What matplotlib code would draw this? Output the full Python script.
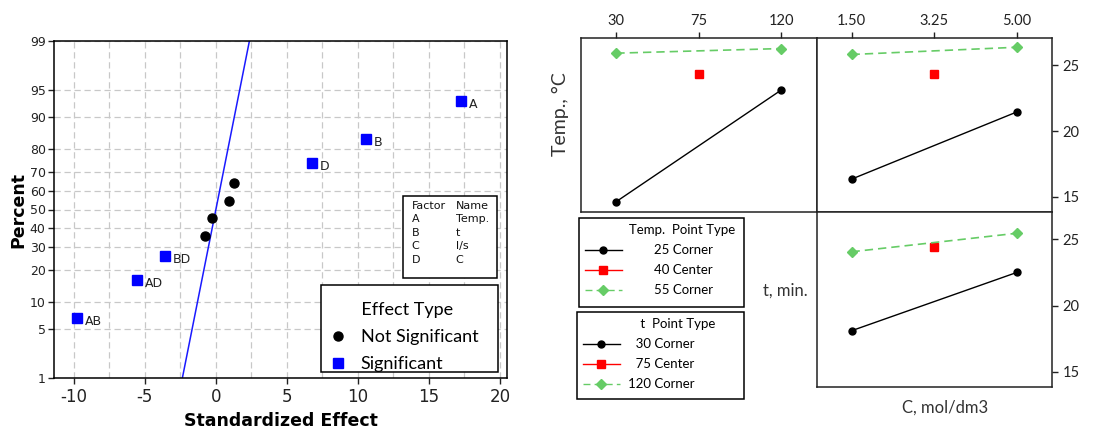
import numpy as np
import matplotlib
matplotlib.use("Agg")
import matplotlib.pyplot as plt
from matplotlib.lines import Line2D
from matplotlib.patches import Rectangle
from matplotlib.ticker import MultipleLocator, FixedLocator
from statistics import NormalDist

plt.rcParams["axes.unicode_minus"] = False

# normal plot of the standardized effects
ns_effect = [-0.8, -0.25, 0.9, 1.25]
ns_percent = [35.6, 45.2, 54.8, 64.5]
sig_terms = ["AB", "AD", "BD", "D", "B", "A"]
sig_effect = [-9.75, -5.55, -3.6, 6.8, 10.55, 17.25]
sig_percent = [6.7, 16.4, 26.0, 74.0, 83.6, 93.3]
fit_effect = [-2.36, 2.36]
fit_percent = [1, 99]
pct_ticks = [1, 5, 10, 20, 30, 40, 50, 60, 70, 80, 90, 95, 99]
factors = ["A", "B", "C", "D"]
factor_names = ["Temp.", "t", "l/s", "C"]

# interaction plot (mean response)
t_levels = [30, 75, 120]
c_levels = [1.50, 3.25, 5.00]
temp_levels = [25, 40, 55]
point_types = ["Corner", "Center", "Corner"]
# Temp. lines vs t
temp25_vs_t = [14.65, 23.1]
temp40_vs_t = [24.35]
temp55_vs_t = [25.9, 26.25]
# Temp. lines vs C
temp25_vs_c = [16.35, 21.45]
temp40_vs_c = [24.35]
temp55_vs_c = [25.8, 26.35]
# t lines vs C
t30_vs_c = [18.1, 22.5]
t75_vs_c = [24.4]
t120_vs_c = [24.05, 25.45]

_nd = NormalDist()


def pct_fwd(p):
    p = np.clip(np.asarray(p, dtype=float) / 100.0, 1e-9, 1 - 1e-9)
    return np.vectorize(_nd.inv_cdf, otypes=[float])(p)


def pct_inv(z):
    return np.vectorize(_nd.cdf, otypes=[float])(np.asarray(z, dtype=float)) * 100.0


W, H = 1120, 430
fig = plt.figure(figsize=(W / 100, H / 100), dpi=100)


def fbox(x0, y0, x1, y1):
    # pixel box (top-left origin) -> figure fraction rect
    return [x0 / W, 1 - y1 / H, (x1 - x0) / W, (y1 - y0) / H]


def frame(x0, y0, x1, y1):
    r = Rectangle((x0 / W, 1 - y1 / H), (x1 - x0) / W, (y1 - y0) / H, transform=fig.transFigure,
                  facecolor="white", edgecolor="black", linewidth=1.1, zorder=4)
    fig.add_artist(r)


# ---------------- left: normal plot ----------------
ax = fig.add_axes(fbox(54, 41, 507, 378))
ax.set_yscale("function", functions=(pct_fwd, pct_inv))
ax.set_ylim(1, 99)
ax.set_xlim(-11.4, 20.5)
ax.yaxis.set_major_locator(FixedLocator(pct_ticks))
ax.set_yticklabels([str(v) for v in pct_ticks])
ax.yaxis.set_minor_locator(FixedLocator([]))
ax.xaxis.set_major_locator(MultipleLocator(5))
ax.xaxis.set_minor_locator(MultipleLocator(2.5))
ax.grid(True, which="both", axis="x", color="#c8c8c8", linestyle=(0, (5, 3)), linewidth=0.9)
ax.grid(True, which="major", axis="y", color="#c8c8c8", linestyle=(0, (5, 3)), linewidth=0.9)
ax.tick_params(axis="x", which="minor", length=0)
ax.tick_params(axis="x", which="major", labelsize=12, length=4, width=1, colors="#222222")
ax.tick_params(axis="y", labelsize=9, length=4, width=1, colors="#222222", pad=2)
for s in ax.spines.values():
    s.set_color("black")
    s.set_linewidth(1.1)
ax.set_axisbelow(True)

ax.plot(fit_effect, fit_percent, color="#1a1aff", linewidth=1.1, zorder=2)
ax.plot(ns_effect, ns_percent, "o", color="black", markersize=6.5, linestyle="none", zorder=3)
ax.plot(sig_effect, sig_percent, "s", color="#0000ff", markersize=6.5, linestyle="none", zorder=3)
for term, x, y in zip(sig_terms, sig_effect, sig_percent):
    ax.annotate(term, (x, y), xytext=(5.5, -2.5), textcoords="offset points",
                ha="left", va="center", fontsize=9, color="#222222")

ax.set_xlabel("Standardized Effect", fontsize=12.5, fontweight="bold", labelpad=4)
ax.set_ylabel("Percent", fontsize=12.5, fontweight="bold", labelpad=2)

# factor / name table
ax.add_patch(Rectangle((0.770, 0.297), 0.208, 0.243, transform=ax.transAxes,
                       facecolor="white", edgecolor="black", linewidth=1.1, zorder=4))
ax.text(0.790, 0.525, "\n".join(["Factor"] + factors), transform=ax.transAxes,
        ha="left", va="top", fontsize=8, linespacing=1.42, zorder=5, color="#111111")
ax.text(0.887, 0.525, "\n".join(["Name"] + factor_names), transform=ax.transAxes,
        ha="left", va="top", fontsize=8, linespacing=1.42, zorder=5, color="#111111")

# effect type legend (box drawn separately so the padding can be uneven)
ax.add_patch(Rectangle((0.5894, 0.0178), 0.3907, 0.2582, transform=ax.transAxes,
                       facecolor="white", edgecolor="black", linewidth=1.1, zorder=4))
eff_handles = [Line2D([], [], marker="o", color="black", linestyle="none", markersize=6.5),
               Line2D([], [], marker="s", color="#0000ff", linestyle="none", markersize=6.5)]
leg = ax.legend(eff_handles, ["Not Significant", "Significant"], title=" " * 7 + "Effect Type",
                loc="lower left", bbox_to_anchor=(0.589, -0.006), frameon=False,
                borderaxespad=0, handletextpad=0.75, prop={"family": "Lato", "size": 13},
                title_fontproperties={"family": "Lato", "size": 13},
                alignment="left", labelspacing=0.6, borderpad=0.45, handlelength=1.0)
leg.set_zorder(6)

# ---------------- right: interaction plot ----------------
styles = [dict(color="black", marker="o", linestyle="-", markersize=5),
          dict(color="#ff0000", marker="s", linestyle="-", markersize=5.5),
          dict(color="#66cc66", marker="D", linestyle=(0, (5, 3)), markersize=5)]
ylim = (13.86, 27.05)
ax_tl = fig.add_axes(fbox(581, 38, 817, 212))
ax_tr = fig.add_axes(fbox(817, 38, 1052, 212))
ax_br = fig.add_axes(fbox(817, 212, 1052, 387))

corner_t = [t_levels[0], t_levels[2]]
corner_c = [c_levels[0], c_levels[2]]

ax_tl.plot(corner_t, temp25_vs_t, linewidth=1, **styles[0])
ax_tl.plot([t_levels[1]], temp40_vs_t, linewidth=1, **styles[1])
ax_tl.plot(corner_t, temp55_vs_t, linewidth=1.2, **styles[2])

ax_tr.plot(corner_c, temp25_vs_c, linewidth=1, **styles[0])
ax_tr.plot([c_levels[1]], temp40_vs_c, linewidth=1, **styles[1])
ax_tr.plot(corner_c, temp55_vs_c, linewidth=1.2, **styles[2])

ax_br.plot(corner_c, t30_vs_c, linewidth=1, **styles[0])
ax_br.plot([c_levels[1]], t75_vs_c, linewidth=1, **styles[1])
ax_br.plot(corner_c, t120_vs_c, linewidth=1.2, **styles[2])

for a in (ax_tl, ax_tr, ax_br):
    a.set_ylim(*ylim)
    for s in a.spines.values():
        s.set_color("#222222")
        s.set_linewidth(1.1)
    a.tick_params(labelsize=10.5, colors="#222222", length=4, width=1)
    a.set_xticks([])
    a.set_yticks([])

ax_tl.set_xlim(10.7, 139.6)
ax_tl.set_xticks(t_levels)
ax_tl.set_xticklabels([str(v) for v in t_levels], fontfamily="Lato")
ax_tl.xaxis.tick_top()

for a in (ax_tr, ax_br):
    a.set_xlim(0.77, 5.74)
    a.set_yticks([15, 20, 25])
    a.set_yticklabels(["15", "20", "25"], fontfamily="Lato")
    a.yaxis.tick_right()
ax_tr.set_xticks(c_levels)
ax_tr.set_xticklabels(["%.2f" % v for v in c_levels], fontfamily="Lato")
ax_tr.xaxis.tick_top()

lab_kw = dict(fontfamily="Lato", color="#333333", ha="center", va="center")
fig.text(560 / W, 1 - 114 / H, "Temp., °C", rotation=90, fontsize=14, **lab_kw)
fig.text(785 / W, 1 - 291 / H, "t, min.", fontsize=12, **lab_kw)
fig.text(945 / W, 1 - 408 / H, "C, mol/dm3", fontsize=12, **lab_kw)

frame(579, 218, 744, 307)
frame(577, 312, 744, 399)
leg_kw = dict(loc="upper left", borderaxespad=0, frameon=False, handlelength=2.8,
              labelspacing=0.62, prop={"family": ["Lato", "DejaVu Sans"], "size": 9.5},
              title_fontproperties={"family": "Lato", "size": 9.5},
              alignment="left", borderpad=0.45)
temp_handles = [Line2D([], [], linewidth=1, **st) for st in styles]
l1 = fig.legend(temp_handles, ["%d %s" % (v, p) for v, p in zip(temp_levels, point_types)],
                title=" " * 13 + "Temp.  Point Type", handletextpad=2.4,
                bbox_to_anchor=(579 / W, 1 - 218 / H), **leg_kw)
l1.set_zorder(6)
t_handles = [Line2D([], [], linewidth=1, **st) for st in styles]
t_labels = ["\u2007" * (3 - len(str(v))) + "%d %s" % (v, p) for v, p in zip(t_levels, point_types)]
l2 = fig.legend(t_handles, t_labels, title=" " * 17 + "t  Point Type", handletextpad=0.6,
                bbox_to_anchor=(577 / W, 1 - 312 / H), **leg_kw)
l2.set_zorder(6)

fig.savefig("out.png", dpi=100)
